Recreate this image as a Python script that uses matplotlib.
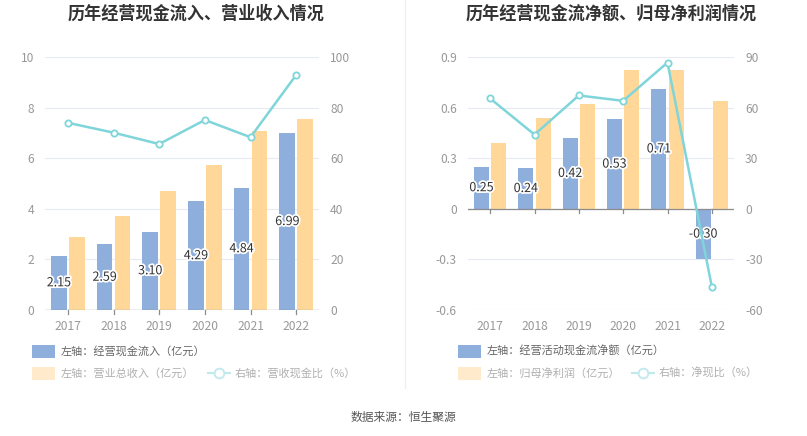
import matplotlib
matplotlib.use("Agg")
import matplotlib.pyplot as plt
import numpy as np
from matplotlib import patheffects as pe
from matplotlib.patches import Rectangle
from matplotlib.lines import Line2D

plt.rcParams['font.family'] = ['Noto Sans CJK SC', 'DejaVu Sans']
plt.rcParams['axes.unicode_minus'] = False

years = ['2017', '2018', '2019', '2020', '2021', '2022']
cash_inflow = [2.15, 2.59, 3.10, 4.29, 4.84, 6.99]
revenue = [2.90, 3.70, 4.72, 5.72, 7.08, 7.55]
cash_rev_ratio = [74.0, 70.1, 65.6, 75.1, 68.3, 92.9]

net_cf = [0.25, 0.24, 0.42, 0.53, 0.71, -0.30]
net_profit = [0.39, 0.54, 0.62, 0.82, 0.82, 0.64]
net_cash_ratio = [65.4, 44.0, 67.2, 64.0, 86.7, -46.2]

BLUE = '#8eaedb'
YELLOW = '#ffd899'
LINE = '#7fd5da'
TICK = '#999999'
GRID = '#e6eaf2'

W, H = 807, 436
fig = plt.figure(figsize=(W / 100, H / 100), dpi=100)

def fx(px):
    return px / W

def fy(py):
    return 1 - py / H

def panel(left_px, right_px, bars1, bars2, ratio, ylim, yticks, ytl, y2lim, y2ticks):
    ax = fig.add_axes([fx(left_px), fy(310), fx(right_px - left_px), fy(57) - fy(310)])
    x = np.arange(len(years))
    bw = 0.34
    off = 0.195
    ax.bar(x - off, bars1, width=bw, color=BLUE, zorder=2)
    ax.bar(x + off, bars2, width=bw, color=YELLOW, zorder=2)
    for xi, v in zip(x, bars1):
        ax.text(xi - off, v / 2, f'{v:.2f}', ha='center', va='center', fontsize=9,
                color='#333333', zorder=5,
                path_effects=[pe.withStroke(linewidth=2.5, foreground='white')])
    ax.set_xlim(-0.5, len(years) - 0.5)
    ax.set_ylim(*ylim)
    ax.set_yticks(yticks)
    ax.set_yticklabels(ytl)
    ax.set_xticks(x)
    ax.set_xticklabels(years)
    for s in ['top', 'right', 'left', 'bottom']:
        ax.spines[s].set_visible(False)
    ax.grid(axis='y', color=GRID, linewidth=0.8, zorder=0)
    ax.axhline(0, color='#8c8c8c', linewidth=0.9, zorder=3)
    ax.tick_params(axis='y', length=0, colors=TICK, labelsize=8.7, pad=8)
    ax.tick_params(axis='x', length=0, colors=TICK, labelsize=8.7, pad=7)
    span = ylim[1] - ylim[0]
    for xi in x:
        ax.plot([xi, xi], [0, -span * 0.016], color='#8c8c8c', lw=0.9, zorder=3, clip_on=False)
    ax2 = ax.twinx()
    ax2.set_ylim(*y2lim)
    ax2.set_yticks(y2ticks)
    for s in ['top', 'right', 'left', 'bottom']:
        ax2.spines[s].set_visible(False)
    ax2.tick_params(axis='y', length=0, colors=TICK, labelsize=8.7, pad=8)
    ax2.plot(x, ratio, color=LINE, lw=1.8, marker='o', markersize=4.5,
             markerfacecolor='white', markeredgecolor=LINE, markeredgewidth=1.3, zorder=4)
    return ax, ax2

panel(45, 319, cash_inflow, revenue, cash_rev_ratio, (0, 10), [0, 2, 4, 6, 8, 10],
      ['0', '2', '4', '6', '8', '10'], (0, 100), [0, 20, 40, 60, 80, 100])
panel(468, 734, net_cf, net_profit, net_cash_ratio, (-0.6, 0.9),
      [-0.6, -0.3, 0, 0.3, 0.6, 0.9], ['-0.6', '-0.3', '0', '0.3', '0.6', '0.9'],
      (-60, 90), [-60, -30, 0, 30, 60, 90])

# titles
fig.text(fx(196), fy(14), '历年经营现金流入、营业收入情况', ha='center', va='center',
         fontsize=12.3, fontweight='bold', color='#333333')
fig.text(fx(611), fy(14), '历年经营现金流净额、归母净利润情况', ha='center', va='center',
         fontsize=12.3, fontweight='bold', color='#333333')

# divider
fig.add_artist(Line2D([fx(405), fx(405)], [fy(0), fy(388)], color='#f0f0f0', lw=1))

# legends
def patch(xpx, ypx, color):
    fig.add_artist(Rectangle((fx(xpx), fy(ypx + 6.5)), fx(23), fy(0) - fy(13),
                             facecolor=color, edgecolor='none'))

def linemark(xpx, ypx):
    fig.add_artist(Line2D([fx(xpx), fx(xpx + 22)], [fy(ypx), fy(ypx)], color='#bfe9ec', lw=1.5))
    fig.add_artist(Line2D([fx(xpx + 11)], [fy(ypx)], marker='o', markersize=7,
                          markerfacecolor='white', markeredgecolor='#bfe9ec', markeredgewidth=1.3))

def ltext(xpx, ypx, s, color):
    fig.text(fx(xpx), fy(ypx), s, ha='left', va='center', fontsize=8, color=color)

DARK = '#666666'
LIGHT = '#b0b0b0'
patch(32, 351, BLUE)
ltext(61, 351, '左轴：经营现金流入（亿元）', DARK)
patch(32, 373, '#ffebcc')
ltext(61, 373, '左轴：营业总收入（亿元）', LIGHT)
linemark(208, 373)
ltext(235, 373, '右轴：营收现金比（%）', LIGHT)

patch(458, 351, BLUE)
ltext(487, 351, '左轴：经营活动现金流净额（亿元）', DARK)
patch(458, 373, '#ffebcc')
ltext(487, 373, '左轴：归母净利润（亿元）', LIGHT)
linemark(632, 373)
ltext(659, 373, '右轴：净现比（%）', LIGHT)

fig.text(fx(403), fy(417), '数据来源：恒生聚源', ha='center', va='center', fontsize=8.5, color='#555555')

fig.savefig('out.png', dpi=100, facecolor='white')
